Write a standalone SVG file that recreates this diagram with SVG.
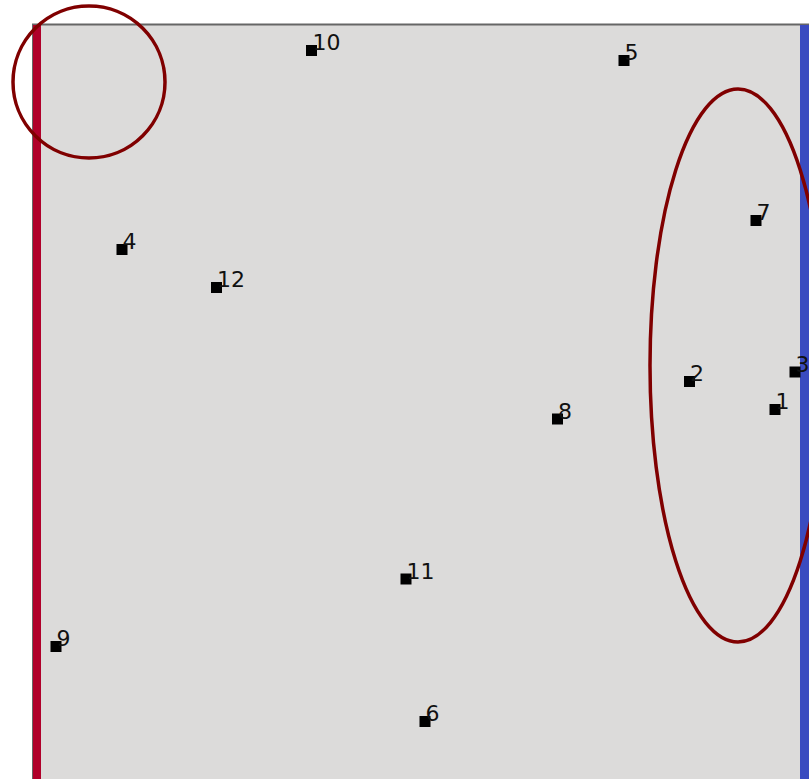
<svg xmlns="http://www.w3.org/2000/svg" width="809" height="779" viewBox="0 0 809 779">
<style>
.pt{fill:#000}
.lb{font-family:"DejaVu Sans",sans-serif;font-size:22px;fill:#111}
.ring{fill:none;stroke:#800000;stroke-width:3.5}
</style>
<rect x="33" y="24.5" width="800" height="800" fill="#dcdbda" stroke="#666" stroke-width="2"/>
<rect x="33" y="25" width="8" height="760" fill="#b0002a"/>
<rect x="800" y="25" width="9" height="760" fill="#3a4bc0"/>
<g id="connectors"></g>
<circle class="ring" cx="89" cy="82" r="76"/>
<ellipse class="ring" cx="738" cy="365.5" rx="88" ry="276.5"/>
<g id="n10"><rect class="pt" x="306" y="45" width="11" height="11"/><text class="lb" x="312.5" y="50">10</text></g>
<g id="n5"><rect class="pt" x="618.5" y="55" width="11" height="11"/><text class="lb" x="624.5" y="60">5</text></g>
<g id="n7"><rect class="pt" x="750.5" y="215" width="11" height="11"/><text class="lb" x="756.5" y="220">7</text></g>
<g id="n4"><rect class="pt" x="116.5" y="244" width="11" height="11"/><text class="lb" x="122.5" y="249">4</text></g>
<g id="n12"><rect class="pt" x="211" y="282" width="11" height="11"/><text class="lb" x="217" y="287">12</text></g>
<g id="n2"><rect class="pt" x="684" y="376" width="11" height="11"/><text class="lb" x="690" y="381">2</text></g>
<g id="n3"><rect class="pt" x="789.5" y="366.5" width="11" height="11"/><text class="lb" x="795.5" y="371.5">3</text></g>
<g id="n1"><rect class="pt" x="769.5" y="404" width="11" height="11"/><text class="lb" x="775.5" y="409">1</text></g>
<g id="n8"><rect class="pt" x="552" y="413.5" width="11" height="11"/><text class="lb" x="558" y="418.5">8</text></g>
<g id="n11"><rect class="pt" x="400.5" y="573.5" width="11" height="11"/><text class="lb" x="406.5" y="578.5">11</text></g>
<g id="n9"><rect class="pt" x="50.5" y="641" width="11" height="11"/><text class="lb" x="56.5" y="646">9</text></g>
<g id="n6"><rect class="pt" x="419.5" y="716" width="11" height="11"/><text class="lb" x="425.5" y="721">6</text></g>
</svg>
